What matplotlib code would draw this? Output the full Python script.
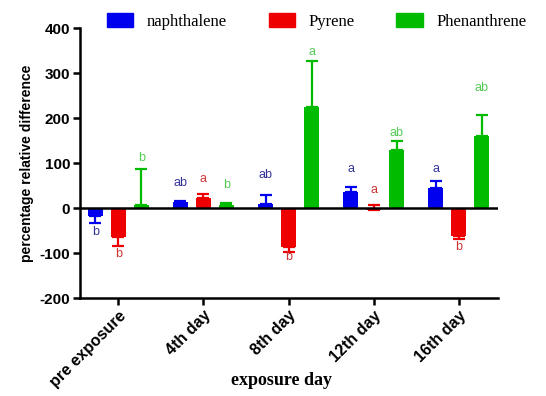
import matplotlib
matplotlib.use("Agg")
import matplotlib.pyplot as plt
import numpy as np
from matplotlib.patches import Patch

plt.rcParams["axes.unicode_minus"] = False

categories = ["pre exposure", "4th day", "8th day", "12th day", "16th day"]
series = ["naphthalene", "Pyrene", "Phenanthrene"]

naph = [-17, 14, 10, 35, 44]
pyr = [-64, 22, -86, -4, -61]
phen = [7, 7, 225, 130, 161]

# signed error extents (direction of the one-sided error bar)
naph_err = [-16, 1, 19, 13, 16]
pyr_err = [-21, 9, -11, 10, -7]
phen_err = [81, 4, 102, 19, 45]

naph_letters = ["b", "ab", "ab", "a", "a"]
pyr_letters = ["b", "a", "b", "a", "b"]
phen_letters = ["b", "b", "a", "ab", "ab"]
naph_letter_y = [-53, 57, 73, 88, 88]
pyr_letter_y = [-101, 64, -108, 40, -86]
phen_letter_y = [112, 51, 347, 168, 267]

bar_colors = ["#0000ee", "#ee0000", "#00bb00"]
letter_colors = ["#333399", "#cc3333", "#55cc55"]

fig = plt.figure(figsize=(5.46, 3.96), dpi=100)
ax = fig.add_axes([0.1465, 0.247, 0.912 - 0.1465, 0.929 - 0.247])

x = np.arange(len(categories))
offsets = [-0.27, 0.0, 0.27]
width = 0.18
vals = [naph, pyr, phen]
errs = [naph_err, pyr_err, phen_err]
letters = [naph_letters, pyr_letters, phen_letters]
letter_ys = [naph_letter_y, pyr_letter_y, phen_letter_y]

for i in range(3):
    v = np.array(vals[i], dtype=float)
    e = np.array(errs[i], dtype=float)
    xs = x + offsets[i]
    ax.bar(xs, v, width=width, color=bar_colors[i], zorder=2)
    lower = np.where(e < 0, -e, 0)
    upper = np.where(e > 0, e, 0)
    ax.errorbar(xs, v, yerr=[lower, upper], fmt="none", ecolor=bar_colors[i],
                elinewidth=1.6, capsize=4, capthick=1.6, zorder=3)
    for xi, lab, ly in zip(xs, letters[i], letter_ys[i]):
        ax.text(xi, ly, lab, color=letter_colors[i], ha="center", va="center",
                fontsize=9, family="Liberation Sans")

ax.axhline(0, color="black", lw=1.8, zorder=4)
ax.set_xlim(-0.45, 4.46)
ax.set_ylim(-200, 400)
ax.set_yticks([-200, -100, 0, 100, 200, 300, 400])
ax.set_xticks(x)
ax.set_xticklabels(categories, rotation=45, ha="right", rotation_mode="anchor",
                   fontsize=11.5, fontweight="bold", family="Liberation Sans")
for t in ax.get_yticklabels():
    t.set_fontsize(11)
    t.set_fontweight("bold")
    t.set_family("Liberation Sans")

for s in ["top", "right"]:
    ax.spines[s].set_visible(False)
for s in ["left", "bottom"]:
    ax.spines[s].set_linewidth(1.8)
ax.tick_params(axis="both", width=1.8, length=5, pad=2)

ax.set_ylabel("percentage relative difference", fontsize=10, fontweight="bold",
              family="Liberation Sans", labelpad=4)
fig.text(0.515, 0.04, "exposure day", ha="center", va="center", fontsize=13,
         fontweight="bold", family="Liberation Serif")

handles = [Patch(color=c) for c in bar_colors]
fig.legend(handles, series, loc="center", bbox_to_anchor=(0.58, 0.945), ncol=3,
           frameon=False, prop={"family": "Liberation Serif", "size": 12},
           handlelength=1.6, handleheight=0.9, columnspacing=2.5, handletextpad=0.8)

fig.savefig("out.png", dpi=100)
